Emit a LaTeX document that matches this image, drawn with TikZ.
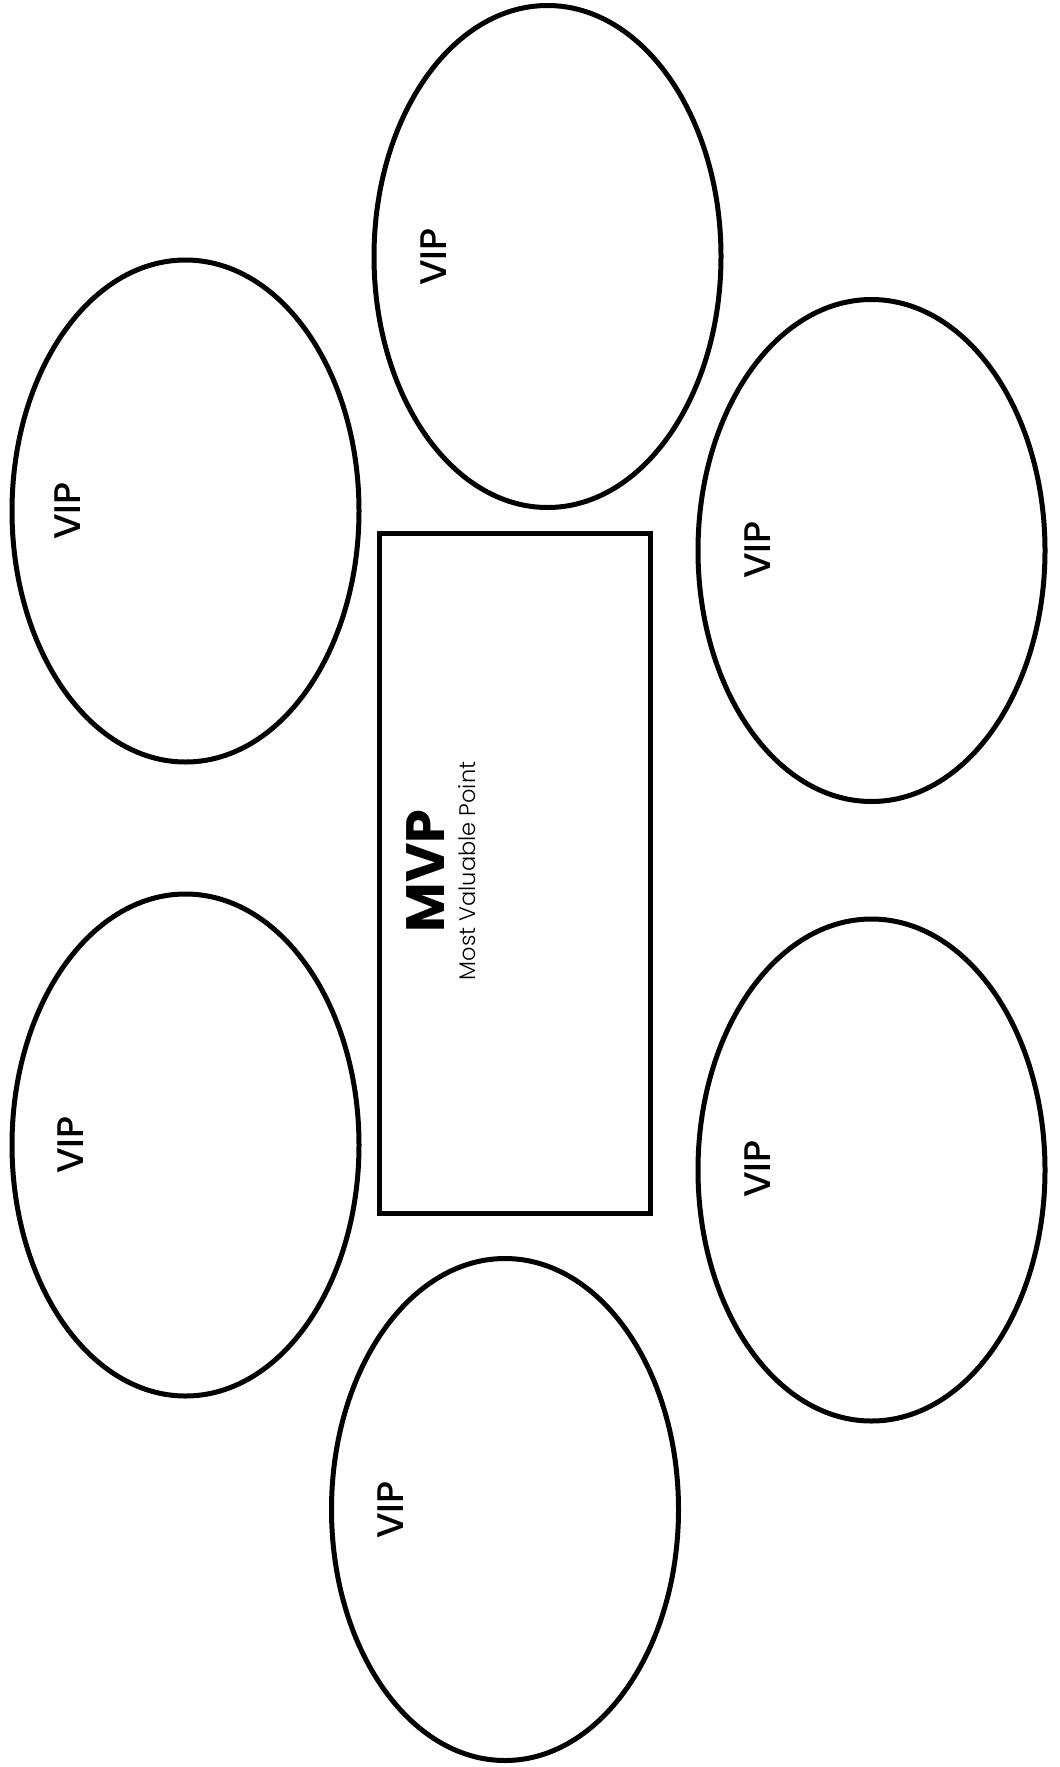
\documentclass[tikz,border=0pt]{standalone}
\usepackage{fontspec}
\setmainfont{Poppins}
\newfontfamily\lightfont{Poppins Light}
\newfontfamily\medfont{Poppins Medium}
\begin{document}
\begin{tikzpicture}[x=1pt,y=-1pt,
  viplabel/.style={rotate=90,font=\fontsize{37}{37}\medfont,inner sep=0pt},
  outline/.style={line width=5pt}]
\useasboundingbox (0,0) rectangle (1060,1767);
\fill[white] (0,0) rectangle (1060,1767);
\draw[outline] (379,533) rectangle (650,1213);
\node[draw=none,rotate=90,inner sep=0pt,font=\fontsize{54}{54}\selectfont\bfseries] (mvp) at (426,871) {MVP};
\node[draw=none,rotate=90,inner sep=0pt,font=\fontsize{22.5}{22.5}\lightfont] (mvpsub) at (467,871) {Most Valuable Point};
\draw[outline] (185.5,511) ellipse (173.5 and 251);
\draw[outline] (547.5,256.5) ellipse (173.5 and 251);
\draw[outline] (871.5,550.5) ellipse (173.5 and 251);
\draw[outline] (185.5,1145) ellipse (173.5 and 251);
\draw[outline] (871.5,1170) ellipse (173.5 and 251);
\draw[outline] (505,1509.5) ellipse (173.5 and 251);
\node[viplabel] (v1) at (68,511) {VIP};
\node[viplabel] (v2) at (434,257) {VIP};
\node[viplabel] (v3) at (758,550) {VIP};
\node[viplabel] (v4) at (71,1145) {VIP};
\node[viplabel] (v5) at (758,1169) {VIP};
\node[viplabel] (v6) at (391,1510) {VIP};
\end{tikzpicture}
\end{document}
